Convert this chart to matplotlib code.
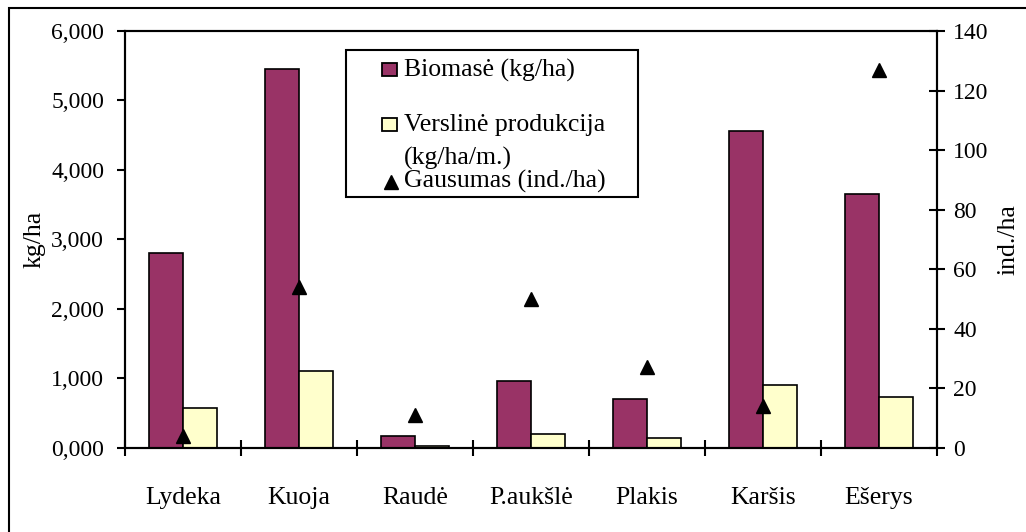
import numpy as np
import matplotlib
matplotlib.use('Agg')
import matplotlib.pyplot as plt
from matplotlib.patches import Rectangle
from matplotlib.lines import Line2D

# data
species = ["Lydeka", "Kuoja", "Raudė", "P.aukšlė", "Plakis", "Karšis", "Ešerys"]
biomass = [2800, 5460, 170, 960, 705, 4560, 3650]          # kg/ha
commercial = [565, 1105, 30, 195, 140, 905, 735]            # kg/ha/m.
abundance = [4, 54, 11, 50, 27, 14, 127]                    # ind./ha

left_ticks = [0, 1000, 2000, 3000, 4000, 5000, 6000]
left_ticklabels = ["0,000", "1,000", "2,000", "3,000", "4,000", "5,000", "6,000"]
right_ticks = [0, 20, 40, 60, 80, 100, 120, 140]

MAROON = "#993366"
PALE = "#FFFFCC"
FS_TICK = 17
FS = 18.5

plt.rcParams['font.family'] = ['Liberation Serif', 'DejaVu Serif']

fig = plt.figure(figsize=(10.26, 5.32), dpi=100)
ax = fig.add_axes([0.1218, 0.1585, 0.7915, 0.7832])
ax2 = ax.twinx()

x = np.arange(len(species))
w = 0.29
ax.bar(x - w / 2, biomass, w, color=MAROON, edgecolor="black", linewidth=1.2, zorder=2)
ax.bar(x + w / 2, commercial, w, color=PALE, edgecolor="black", linewidth=1.2, zorder=2)
ax2.plot(x, abundance, linestyle="none", marker="^", markersize=9.5, color="black", zorder=3)

ax.set_xlim(-0.5, len(species) - 0.5)
ax.set_ylim(0, 6000)
ax2.set_ylim(0, 140)

# category boundaries get crossing ticks, names sit on minor ticks
ax.set_xticks(np.arange(-0.5, len(species), 1.0))
ax.set_xticklabels([])
ax.set_xticks(x, minor=True)
ax.set_xticklabels(species, minor=True, fontsize=FS)
ax.tick_params(axis="x", which="major", direction="inout", length=11, width=1.5)
ax.tick_params(axis="x", which="minor", length=0, pad=28)

ax.set_yticks(left_ticks)
ax.set_yticklabels(left_ticklabels, fontsize=FS_TICK)
ax.tick_params(axis="y", direction="out", length=6, width=1.5, pad=9)

ax2.set_yticks(right_ticks)
ax2.set_yticklabels([str(t) for t in right_ticks], fontsize=FS_TICK)
ax2.tick_params(axis="y", direction="inout", length=11, width=1.5, pad=6)

for a in (ax, ax2):
    for s in a.spines.values():
        s.set_linewidth(1.5)

ax.set_ylabel("kg/ha", fontsize=FS)
ax2.set_ylabel("ind./ha", fontsize=FS)
ax.yaxis.set_label_coords(-0.098, 0.5)
ax2.yaxis.set_label_coords(1.075, 0.5)

# legend drawn by hand to follow the reference's uneven spacing
def px(xp, yp):
    # figure pixel -> axes fraction
    return ((xp - 125) / 812, (447.7 - yp) / 416.7)

lx0, ly0 = px(345.7, 197)
lx1, ly1 = px(638.3, 50)
ax.add_patch(Rectangle((lx0, ly0), lx1 - lx0, ly1 - ly0, transform=ax.transAxes,
                       facecolor="white", edgecolor="black", linewidth=1.5, zorder=5))
for color, yc in ((MAROON, 70), (PALE, 125)):
    sx, sy = px(382, yc + 6)
    sw = 15 / 812
    sh = 13 / 416.7
    ax.add_patch(Rectangle((sx, sy), sw, sh, transform=ax.transAxes,
                           facecolor=color, edgecolor="black", linewidth=1.3, zorder=6))
mx, my = px(391.5, 182)
ax.add_line(Line2D([mx], [my], transform=ax.transAxes, marker="^", markersize=9.5,
                   color="black", linestyle="none", zorder=6))
texts = [("Biomasė (kg/ha)", 70), ("Verslinė produkcija", 125),
         ("(kg/ha/m.)", 158), ("Gausumas (ind./ha)", 181)]
for t, yc in texts:
    tx, ty = px(404, yc)
    ax.text(tx, ty, t, transform=ax.transAxes, fontsize=FS, va="center", ha="left", zorder=7)

# outer chart border, cut off at right and bottom like the reference
fig.add_artist(Rectangle((9 / 1026, -0.1), 1.2, 1.1 - 8 / 532, transform=fig.transFigure,
                         fill=False, edgecolor="black", linewidth=1.5))

fig.savefig("out.png", dpi=100)
